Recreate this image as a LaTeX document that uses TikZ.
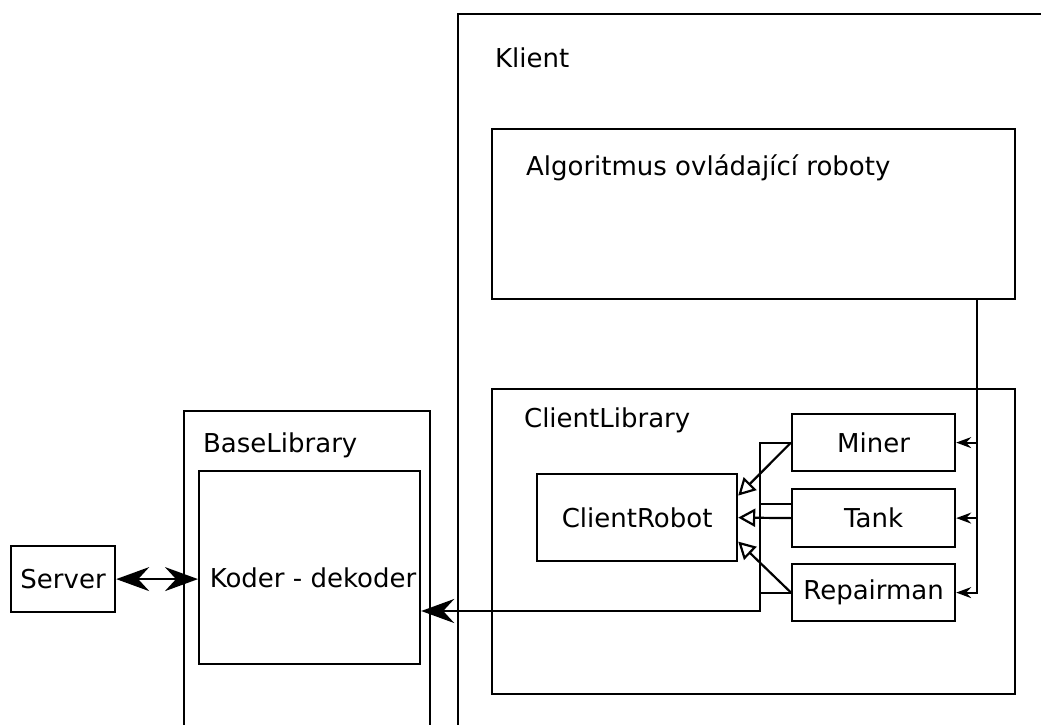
\documentclass[tikz,border=0pt]{standalone}
\usepackage{fontspec}
\setmainfont{DejaVu Sans}
\usetikzlibrary{arrows.meta, positioning, calc}

\begin{document}
\begin{tikzpicture}[x=1pt, y=-1pt, line width=2.2pt,
        txt/.style={font=\fontsize{26}{31}\selectfont},
        box/.style={draw, rectangle, inner sep=0pt, anchor=north west, txt},
        title/.style={anchor=base west, inner sep=0pt, txt},
        inherit/.style={-{Triangle[open, length=17pt, width=18pt]}},
        call/.style={-{Stealth[length=15pt, width=11pt, inset=5pt]}},
        big/.style={-{Stealth[length=33pt, width=24pt, inset=11pt]}},
        bigboth/.style={{Stealth[length=33pt, width=24pt, inset=11pt]}-{Stealth[length=33pt, width=24pt, inset=11pt]}}]
    \useasboundingbox (0,0) rectangle (1041,725);
    \clip (0,0) rectangle (1041,725);

    % outer parts
    \node[box, minimum width=640, minimum height=740] (klient) at (457,13) {};
    \node[title] (klientlbl) at (494,67) {Klient};
    \node[box, minimum width=246, minimum height=340] (baselib) at (183,410) {};
    \node[title] (baselbl) at (202,452) {BaseLibrary};
    \node[box, minimum width=221, minimum height=193] (koder) at (198,470) {};
    \node[txt, inner sep=0pt] (koderlbl) at (313,578) {Koder - dekoder};
    \node[box, minimum width=104, minimum height=66] (server) at (10,545) {Server};

    % client side
    \node[box, minimum width=523, minimum height=170] (algo) at (491,128) {};
    \node[title] (algolbl) at (525,175) {Algoritmus ovládající roboty};
    \node[box, minimum width=523, minimum height=305] (clientlib) at (491,388) {};
    \node[title] (clientlbl) at (523,427) {ClientLibrary};
    \node[box, minimum width=200, minimum height=87] (robot) at (536,473) {ClientRobot};
    \node[box, minimum width=163, minimum height=57] (miner) at (791,413) {Miner};
    \node[box, minimum width=163, minimum height=58] (tank) at (791,488) {Tank};
    \node[box, minimum width=163, minimum height=57] (repair) at (791,563) {Repairman};

    % algorithm to robots
    \coordinate (bus) at (977,298);
    \draw[call] (bus) |- (repair.east);
    \draw[call] (bus |- miner.east) -- (miner.east);
    \draw[call] (bus |- tank.east) -- (tank.east);

    % inheritance
    \draw[inherit] (miner.west) -- ($(robot.east)+(0,-22)$);
    \draw[inherit] (tank.west) -- (robot.east);
    \draw[inherit] (repair.west) -- ($(robot.east)+(0,24)$);

    % robots to coder
    \coordinate (join) at (760,611);
    \draw[big] (miner.west) -| (join) -- (join -| koder.east);
    \draw ($(tank.west)+(0,-14)$) -- ($(tank.west)+(-31,-14)$);
    \draw (repair.west) -- (repair.west -| join);
    \draw ($(robot.south)+(-7,0)$) -- ($(robot.south)+(-7,0)$ |- join);

    % server link
    \draw[bigboth] (server.east) -- (server.east -| koder.west);
\end{tikzpicture}
\end{document}
